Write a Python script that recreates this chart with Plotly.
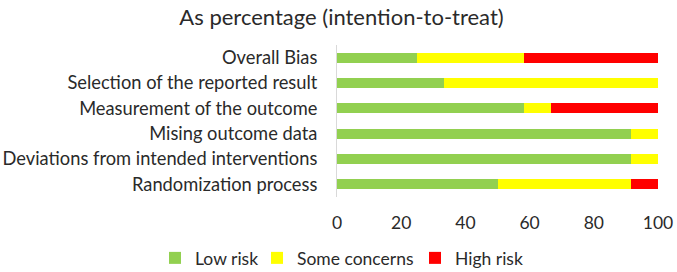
import plotly.graph_objects as go

domains = ["Overall Bias", "Selection of the reported result", "Measurement of the outcome",
           "Mising outcome data", "Deviations from intended interventions", "Randomization process"]
low = [25.0, 33.3, 58.3, 91.7, 91.7, 50.0]
some = [33.3, 66.7, 8.4, 8.3, 8.3, 41.7]
high = [41.7, 0.0, 33.3, 0.0, 0.0, 8.3]
x_ticks = [0, 20, 40, 60, 80, 100]

FONT = "Lato"
TXT = "#2a2a2a"
series = [("Low risk", low, "#92D050", "legend", 155),
          ("Some concerns", some, "#FFFF00", "legend2", 257),
          ("High risk", high, "#FF0000", "legend3", 415)]
fig = go.Figure()
for name, vals, col, lg, _ in series:
    fig.add_trace(go.Bar(y=domains, x=vals, name=name, orientation="h", legend=lg,
                         marker=dict(color=col, line=dict(width=0))))

legends = {}
for name, vals, col, lg, lx in series:
    legends[lg] = dict(orientation="h", x=lx / 677, xanchor="left", xref="container",
                       y=1 - 258 / 272, yanchor="middle", yref="container",
                       font=dict(size=17.5, color=TXT), itemwidth=30, bgcolor="rgba(0,0,0,0)")

fig.update_layout(
    width=677, height=272, barmode="stack", bargap=0.6,
    paper_bgcolor="white", plot_bgcolor="white",
    margin=dict(l=337, r=19, t=45, b=75, autoexpand=False),
    font=dict(family=FONT, size=18.3, color=TXT),
    title=dict(text="As percentage (intention-to-treat)", x=341.5 / 677, xanchor="center",
               y=1 - 17.5 / 272, yanchor="middle", font=dict(size=22, color=TXT)),
    showlegend=True,
    **legends,
)
fig.update_xaxes(range=[0, 100], tickvals=x_ticks, showgrid=False, zeroline=False,
                 showline=False, ticks="", ticklabelstandoff=13, fixedrange=True,
                 tickfont=dict(size=17.5))
fig.update_yaxes(categoryorder="array", categoryarray=domains[::-1], showgrid=False,
                 showline=True, linecolor="#D9D9D9", linewidth=1, ticks="", ticklabelstandoff=15)
fig.write_html("out.html")
